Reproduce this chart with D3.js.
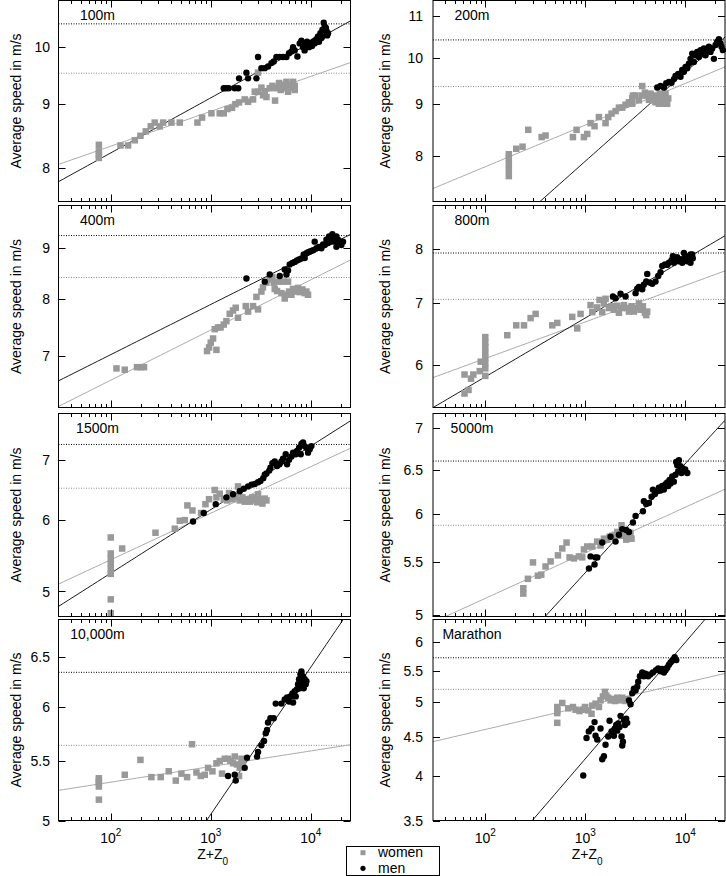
<!DOCTYPE html>
<html><head><meta charset="utf-8">
<script src="https://cdn.jsdelivr.net/npm/d3@7"></script>
<style>
body{margin:0;background:#fff}
svg{display:block}
text{font-family:"Liberation Sans",Arial,Helvetica,sans-serif;fill:#000}
</style>
</head><body>
<svg id="chart" width="726" height="876"></svg>
<script>
// ---------------- data ----------------
const events = ["100m","200m","400m","800m","1500m","5000m","10,000m","Marathon"];
const xDomain = [30, 25000];
const xMajorTicks = [100, 1000, 10000];
const yDomains = [[7.52,10.9],[7.21,11.4],[6.21,9.93],[5.40,8.91],[4.69,7.88],[4.99,7.19],[5.0,6.90],[3.5,6.42]];
const yTicks = [[8,9,10],[8,9,10,11],[7,8,9],[6,7,8],[5,6,7],[5,5.5,6,6.5,7],[5,5.5,6,6.5],[3.5,4,4.5,5,5.5,6]];
const recordMen   = [10.44,10.42,9.26,7.92,7.28,6.60,6.34,5.72];
const recordWomen = [9.53,9.37,8.40,7.06,6.51,5.88,5.64,5.20];
// power-law fits v = a * (Z+Z0)^b, given as [a, b]
const fitMen   = [[6.713,0.04414],[4.303,0.0880],[5.562,0.05061],[4.352,0.06335],[3.786,0.07054],[2.996,0.08525],[2.490,0.10234],[1.469,0.15262]];
const fitWomen = [[7.322,0.02797],[6.455,0.04122],[5.241,0.05061],[5.087,0.03934],[4.274,0.05166],[4.376,0.03559],[5.057,0.01087],[4.001,0.03062]];

const women100 = [[76,8.35],[76,8.25],[76,8.20],[76,8.15],[125,8.34],[149,8.34],[174,8.42],[198,8.49],[224,8.56],[251,8.64],[275,8.70],[309,8.64],[334,8.70],[404,8.70],[490,8.70],[736,8.70],[819,8.78],[1016,8.85],[1230,8.85],[1349,8.85],[1468,8.92],[1634,8.94],[1765,9.0],[1919,9.03],[2188,9.08],[2361,9.04],[2650,9.08],[2754,9.21],[2972,9.21],[2972,9.54],[3211,9.28],[3334,9.15],[3467,9.22],[3606,9.12],[3892,9.27],[4137,9.31],[4397,9.06],[4537,9.27],[4824,9.36],[5012,9.24],[5286,9.33],[5495,9.27],[5715,9.38],[5934,9.21],[6166,9.33],[6412,9.28],[6658,9.38],[6918,9.31],[6918,9.24]];
const men100 = [[1349,9.27],[1420,9.27],[1514,9.27],[1738,9.27],[1884,9.27],[1919,9.44],[2275,9.54],[2361,9.44],[2864,9.44],[2972,9.82],[3211,9.62],[3467,9.62],[3741,9.65],[4045,9.71],[4266,9.74],[4537,9.82],[4875,9.82],[5286,9.82],[5715,9.82],[6067,9.89],[6412,9.92],[6658,10.0],[6918,9.94],[7362,9.83],[7762,10.07],[8072,10.12],[8375,10.0],[8690,9.94],[8900,10.07],[9183,10.10],[9400,10.05],[9600,10.0],[10160,10.04],[10300,10.02],[10540,10.10],[10940,10.07],[11000,10.12],[11400,10.15],[11600,10.10],[11830,10.20],[12100,10.10],[12300,10.15],[12500,10.26],[12800,10.17],[13000,10.20],[13100,10.33],[13490,10.46],[13700,10.32],[13800,10.39],[14200,10.36],[14400,10.30],[14600,10.22],[14900,10.26]];

const women200 = [[172,8.03],[172,7.95],[172,7.85],[172,7.75],[172,7.64],[204,8.13],[236,8.17],[269,8.49],[366,8.35],[401,8.38],[753,8.35],[819,8.49],[970,8.35],[1047,8.41],[1130,8.62],[1239,8.56],[1370,8.74],[1596,8.62],[1698,8.74],[1834,8.81],[2010,8.86],[2172,8.93],[2344,8.93],[2530,8.99],[2735,9.04],[2951,9.12],[2951,9.01],[3000,9.18],[3187,9.18],[3442,9.08],[3715,9.38],[3715,9.18],[3953,9.24],[4169,9.18],[4335,9.09],[4500,9.22],[4677,9.08],[4856,9.18],[5047,9.04],[5240,9.15],[5454,9.01],[5580,9.22],[5794,9.08],[5950,9.15],[6124,9.01],[6356,9.22],[6450,9.08],[6600,9.01],[6761,9.12]];
const men200 = [[5250,9.35],[5660,9.38],[6120,9.35],[6460,9.44],[6870,9.47],[7300,9.45],[7710,9.53],[8000,9.60],[8510,9.64],[8980,9.58],[9330,9.73],[9700,9.69],[10070,9.80],[10470,9.77],[10880,9.87],[11300,9.98],[11750,10.10],[12210,9.91],[12690,10.06],[13180,10.14],[13700,10.02],[14230,10.18],[14790,10.10],[15380,10.22],[15970,10.06],[16600,10.18],[17250,10.26],[17910,10.14],[18620,10.22],[19360,9.98],[20110,10.30],[20890,10.38],[21710,10.44],[22550,10.34],[23080,10.26],[23820,10.18]];

const women400 = [[114,6.80],[138,6.78],[183,6.82],[200,6.82],[215,6.82],[918,7.08],[962,7.14],[1000,7.22],[1055,7.29],[1096,7.45],[1140,7.10],[1184,7.48],[1254,7.48],[1349,7.53],[1434,7.59],[1549,7.72],[1671,7.78],[1778,7.83],[1875,7.65],[2239,7.86],[2361,7.76],[2650,7.86],[2972,7.80],[2864,8.03],[3211,8.13],[3330,8.21],[3606,8.30],[3892,8.36],[4137,8.41],[4266,8.30],[4365,8.18],[4603,8.14],[4824,8.32],[5093,8.10],[5495,8.00],[5800,8.07],[6067,8.13],[5934,8.32],[5286,8.32],[6412,8.07],[6658,8.18],[7079,8.13],[7464,8.20],[7762,8.12],[8260,8.17],[8710,8.10],[9057,8.13],[9400,8.07]];
const men400 = [[2275,8.38],[3467,8.32],[3892,8.46],[4898,8.43],[5715,8.46],[5934,8.54],[5495,8.56],[6166,8.66],[6560,8.69],[6918,8.71],[7300,8.74],[7640,8.76],[8072,8.78],[8510,8.86],[8710,8.79],[9057,8.89],[9400,8.91],[9931,8.93],[10550,8.95],[10960,9.13],[11400,8.99],[12110,9.02],[12790,8.99],[13280,9.07],[13800,9.06],[14350,9.17],[14900,9.10],[15240,9.24],[15850,9.13],[16480,9.29],[16980,9.21],[17380,9.13],[18070,9.24],[18760,9.17],[19500,9.10],[20260,9.06],[18070,9.02],[21040,9.13]];

const women800 = [[62,5.86],[62,5.59],[68,5.64],[72,5.80],[76,5.86],[90,6.05],[88,5.91],[100,6.43],[100,6.35],[100,6.27],[100,6.19],[100,6.11],[100,6.03],[100,5.95],[100,5.84],[166,6.46],[204,6.62],[244,6.62],[284,6.74],[319,6.81],[468,6.62],[525,6.66],[741,6.76],[832,6.57],[898,6.81],[1130,6.96],[1175,6.84],[1318,6.92],[1390,7.05],[1479,6.84],[1538,6.99],[1596,7.07],[1725,6.91],[1834,6.94],[1936,6.88],[2089,6.95],[2172,6.83],[2307,6.91],[2437,6.96],[2630,6.91],[2735,6.85],[2904,6.94],[3066,6.85],[3236,6.91],[3442,6.99],[3573,6.88],[3774,6.94],[3953,6.83],[4074,6.79],[4169,6.85]];
const men800 = [[1892,7.11],[2010,7.08],[2255,7.16],[2530,7.11],[3187,7.17],[3311,7.25],[3442,7.28],[3715,7.24],[3850,7.32],[4074,7.38],[4169,7.52],[4397,7.36],[4677,7.34],[5047,7.38],[5370,7.48],[5662,7.55],[5888,7.67],[6266,7.70],[6607,7.69],[6871,7.73],[7300,7.78],[7530,7.86],[7710,7.73],[8000,7.80],[8318,7.84],[8650,7.76],[8974,7.80],[9333,7.73],[9700,7.92],[9930,7.83],[10470,7.76],[10880,7.86],[11300,7.73],[11750,7.89],[11900,7.82],[11300,7.89]];

const women1500 = [[100,5.74],[100,5.51],[100,5.44],[100,5.37],[100,5.30],[100,5.23],[100,4.90],[100,4.73],[130,5.58],[280,5.81],[437,5.87],[490,5.99],[550,6.00],[584,6.23],[656,6.15],[800,6.11],[885,6.25],[962,6.33],[1096,6.48],[1140,6.36],[1230,6.42],[1349,6.33],[1456,6.31],[1525,6.43],[1648,6.33],[1778,6.36],[1875,6.54],[1950,6.31],[2075,6.36],[2188,6.29],[2307,6.33],[2455,6.29],[2610,6.36],[2754,6.31],[2904,6.28],[2972,6.41],[3090,6.33],[3288,6.26],[3467,6.34],[3606,6.31]];
const men1500 = [[665,5.98],[851,6.11],[1122,6.25],[1434,6.36],[1671,6.41],[1950,6.46],[2140,6.50],[2361,6.54],[2560,6.57],[2754,6.58],[2972,6.61],[3141,6.63],[3350,6.68],[3467,6.74],[3606,6.76],[3850,6.81],[3953,6.86],[4140,6.94],[4365,6.97],[4603,6.89],[4875,6.92],[5093,6.97],[5286,7.02],[5623,7.10],[5800,6.92],[6067,7.00],[6412,7.06],[6658,7.13],[7080,7.10],[7295,7.16],[7650,7.22],[7943,7.10],[8072,7.29],[8375,7.32],[8690,7.25],[9057,7.22],[9400,7.13],[9770,7.19],[10160,7.25]];

const women5000 = [[240,5.25],[240,5.20],[267,5.34],[300,5.50],[336,5.37],[363,5.38],[401,5.46],[450,5.51],[533,5.57],[589,5.64],[650,5.70],[697,5.55],[770,5.54],[865,5.56],[933,5.55],[970,5.63],[1047,5.66],[1175,5.66],[1318,5.71],[1423,5.67],[1538,5.74],[1660,5.73],[1750,5.76],[1862,5.77],[1982,5.78],[2089,5.81],[2203,5.77],[2307,5.88],[2381,5.83],[2495,5.77],[2570,5.73],[2630,5.81],[2735,5.76],[2838,5.80],[2904,5.74]];
const men5000 = [[1089,5.44],[1130,5.56],[1239,5.48],[1268,5.55],[1318,5.55],[1479,5.70],[1791,5.76],[2010,5.71],[2172,5.78],[2344,5.84],[2570,5.83],[2735,5.81],[3000,5.91],[3187,5.98],[3775,6.03],[3860,6.14],[4074,6.11],[4335,6.12],[4603,6.19],[4750,6.27],[4970,6.22],[5248,6.25],[5450,6.29],[5660,6.26],[5888,6.31],[6120,6.27],[6360,6.33],[6607,6.35],[6760,6.31],[6970,6.38],[7130,6.34],[7413,6.42],[7700,6.36],[8000,6.44],[8128,6.59],[8318,6.55],[8510,6.48],[8650,6.61],[8974,6.54],[9190,6.46],[9330,6.52],[9550,6.48],[10000,6.50],[10500,6.46]];

const women10000 = [[76,5.35],[76,5.33],[76,5.31],[76,5.28],[76,5.17],[138,5.38],[198,5.51],[255,5.36],[316,5.36],[380,5.41],[447,5.33],[509,5.39],[580,5.36],[650,5.65],[719,5.40],[794,5.37],[871,5.38],[940,5.44],[1040,5.41],[1140,5.48],[1230,5.50],[1297,5.39],[1380,5.52],[1490,5.52],[1574,5.50],[1671,5.48],[1738,5.54],[1834,5.47],[1919,5.37],[1950,5.44],[2026,5.52],[2104,5.48]];
const men10000 = [[1490,5.37],[1738,5.38],[1778,5.33],[2188,5.44],[2307,5.53],[2904,5.54],[2972,5.58],[3211,5.64],[3415,5.68],[3548,5.75],[3656,5.78],[3741,5.85],[3953,5.89],[4266,5.89],[4467,6.03],[5093,6.03],[5495,6.07],[5800,6.09],[6067,6.05],[6266,6.10],[6561,6.13],[6658,6.04],[6918,6.15],[7080,6.10],[7295,6.17],[7470,6.22],[7640,6.27],[7762,6.18],[7890,6.32],[8072,6.35],[8260,6.23],[8375,6.30],[8510,6.18],[8710,6.27],[8913,6.22],[9057,6.25]];

const womenMarathon = [[525,4.70],[525,4.93],[525,4.88],[525,4.84],[589,4.99],[676,4.91],[753,4.93],[800,4.89],[877,4.87],[948,4.89],[993,4.93],[1072,4.88],[1156,4.83],[1175,4.95],[1268,4.98],[1370,4.93],[1422,5.03],[1503,5.09],[1574,5.16],[1622,5.10],[1698,5.07],[1791,5.03],[1862,5.05],[1982,5.02],[2089,5.07],[2203,5.03],[2344,5.07],[2530,5.02],[2692,5.05]];
const menMarathon = [[955,4.01],[1030,4.49],[1085,4.58],[1156,4.62],[1239,4.71],[1268,4.52],[1318,4.47],[1422,4.62],[1479,4.21],[1538,4.25],[1596,4.40],[1698,4.51],[1750,4.73],[1834,4.58],[1936,4.52],[1982,4.62],[2040,4.67],[2089,4.59],[2140,4.69],[2203,4.64],[2255,4.80],[2307,4.51],[2344,4.39],[2381,4.44],[2437,4.74],[2495,4.67],[2570,4.76],[2630,4.70],[2735,5.03],[2838,4.97],[2951,5.14],[3066,5.21],[3187,5.18],[3311,5.24],[3388,5.32],[3524,5.41],[3715,5.47],[3860,5.41],[4000,5.45],[4266,5.41],[4467,5.44],[4750,5.47],[5100,5.51],[5370,5.54],[5660,5.49],[5888,5.53],[6120,5.47],[6356,5.51],[6607,5.55],[6870,5.60],[7129,5.64],[7400,5.67],[7706,5.70],[7850,5.73],[8150,5.68]];

const womenData = [women100, women200, women400, women800, women1500, women5000, women10000, womenMarathon];
const menData   = [men100, men200, men400, men800, men1500, men5000, men10000, menMarathon];
const legendLabels = ["women", "men"];

// ---------------- layout ----------------
const svg = d3.select("#chart");
const colLeft = [58.5, 433];
const plotW = 292;
const rowY = [[0.5,201.5],[205.5,407.5],[413.5,616.5],[619.5,820.5]];
const labelGap = [8.5, 10];
const yLabelX = [20.5, 389.5];

const womenColor = "#999999", menColor = "#000000";
const womenLine = "#aaaaaa", menLine = "#1a1a1a";

const defs = svg.append("defs");

events.forEach((ev, i) => {
  const col = i % 2, row = Math.floor(i / 2);
  const x0 = colLeft[col], x1 = x0 + plotW;
  const yt = rowY[row][0], yb = rowY[row][1];
  const x = d3.scaleLog().domain(xDomain).range([x0, x1]);
  const y = d3.scaleLog().domain(yDomains[i]).range([yb, yt]);
  const g = svg.append("g");

  defs.append("clipPath").attr("id", "clip" + i)
    .append("rect").attr("x", x0).attr("y", yt).attr("width", plotW).attr("height", yb - yt);

  // record lines (dotted)
  const lines = g.append("g").attr("clip-path", `url(#clip${i})`);
  [[recordWomen[i], "#8a8a8a"], [recordMen[i], "#000"]].forEach(([v, c]) => {
    lines.append("line").attr("x1", x0).attr("x2", x1)
      .attr("y1", y(v)).attr("y2", y(v))
      .attr("stroke", c).attr("stroke-width", 1).attr("stroke-dasharray", "1,1.5");
  });

  // points
  g.append("g").selectAll("rect").data(womenData[i]).join("rect")
    .attr("x", d => x(d[0]) - 3.25).attr("y", d => y(d[1]) - 3.25)
    .attr("width", 6.5).attr("height", 6.5).attr("fill", womenColor);
  g.append("g").selectAll("circle").data(menData[i]).join("circle")
    .attr("cx", d => x(d[0])).attr("cy", d => y(d[1])).attr("r", 3.2)
    .attr("fill", menColor);

  // fit lines
  const zs = d3.range(0, 61).map(k => Math.pow(10, Math.log10(xDomain[0]) + k * (Math.log10(xDomain[1]) - Math.log10(xDomain[0])) / 60));
  const lineGen = fit => d3.line().x(z => x(z)).y(z => y(fit[0] * Math.pow(z, fit[1])))(zs);
  lines.append("path").attr("d", lineGen(fitWomen[i])).attr("fill", "none").attr("stroke", womenLine).attr("stroke-width", 1);
  lines.append("path").attr("d", lineGen(fitMen[i])).attr("fill", "none").attr("stroke", menLine).attr("stroke-width", 1);

  // frame
  g.append("rect").attr("x", x0).attr("y", yt).attr("width", plotW).attr("height", yb - yt)
    .attr("fill", "none").attr("stroke", "#000").attr("stroke-width", 1);

  // x ticks (major + minor), top and bottom, inward
  const minor = [];
  [10, 100, 1000, 10000].forEach(dec => { for (let m = 2; m <= 9; m++) { const v = dec * m; if (v > xDomain[0] && v < xDomain[1]) minor.push(v); } });
  const tk = g.append("g").attr("stroke", "#000").attr("stroke-width", 1);
  xMajorTicks.forEach(v => {
    const px = Math.round(x(v)) + 0.5;
    tk.append("line").attr("x1", px).attr("x2", px).attr("y1", yb).attr("y2", yb - 7);
    tk.append("line").attr("x1", px).attr("x2", px).attr("y1", yt).attr("y2", yt + 7);
  });
  minor.forEach(v => {
    const px = Math.round(x(v)) + 0.5;
    tk.append("line").attr("x1", px).attr("x2", px).attr("y1", yb).attr("y2", yb - 3.5);
    tk.append("line").attr("x1", px).attr("x2", px).attr("y1", yt).attr("y2", yt + 3.5);
  });
  // y ticks, left and right
  yTicks[i].forEach(v => {
    const py = Math.round(y(v)) + 0.5;
    tk.append("line").attr("x1", x0).attr("x2", x0 + 7).attr("y1", py).attr("y2", py);
    tk.append("line").attr("x1", x1).attr("x2", x1 - 7).attr("y1", py).attr("y2", py);
    g.append("text").attr("x", x0 - labelGap[col]).attr("y", y(v)).attr("dy", "0.36em")
      .attr("text-anchor", "end").attr("font-size", 14).text(String(v));
  });

  // y axis title
  g.append("text").attr("transform", `translate(${yLabelX[col]},${(yt + yb) / 2}) rotate(-90)`)
    .attr("text-anchor", "middle").attr("font-size", 14).text("Average speed in m/s");

  // panel title
  g.append("text").attr("x", x0 + 39).attr("y", yt + 19).attr("text-anchor", "middle")
    .attr("font-size", 14).text(ev);

  // x tick labels + axis title on bottom row
  if (row === 3) {
    xMajorTicks.forEach(v => {
      const t = g.append("text").attr("x", x(v)).attr("y", yb + 22.5).attr("text-anchor", "middle").attr("font-size", 14);
      t.append("tspan").text("10");
      t.append("tspan").attr("dy", -7.5).attr("font-size", 10).text(String(Math.round(Math.log10(v))));
    });
    const t = g.append("text").attr("x", x(1000) + 2).attr("y", yb + 38.5).attr("text-anchor", "middle").attr("font-size", 14);
    t.append("tspan").text("Z+Z");
    t.append("tspan").attr("dy", 5.5).attr("font-size", 10).text("0");
  }
});

// legend
const lg = svg.append("g");
lg.append("rect").attr("x", 346.5).attr("y", 846.5).attr("width", 93).attr("height", 29)
  .attr("fill", "#fff").attr("stroke", "#000").attr("stroke-width", 1);
lg.append("rect").attr("x", 360.5).attr("y", 850.2).attr("width", 5).attr("height", 5).attr("fill", womenColor);
lg.append("circle").attr("cx", 363).attr("cy", 868.3).attr("r", 2.6).attr("fill", menColor);
lg.append("text").attr("x", 378).attr("y", 857).attr("font-size", 14).text(legendLabels[0]);
lg.append("text").attr("x", 378).attr("y", 872.5).attr("font-size", 14).text(legendLabels[1]);
</script>
</body></html>
